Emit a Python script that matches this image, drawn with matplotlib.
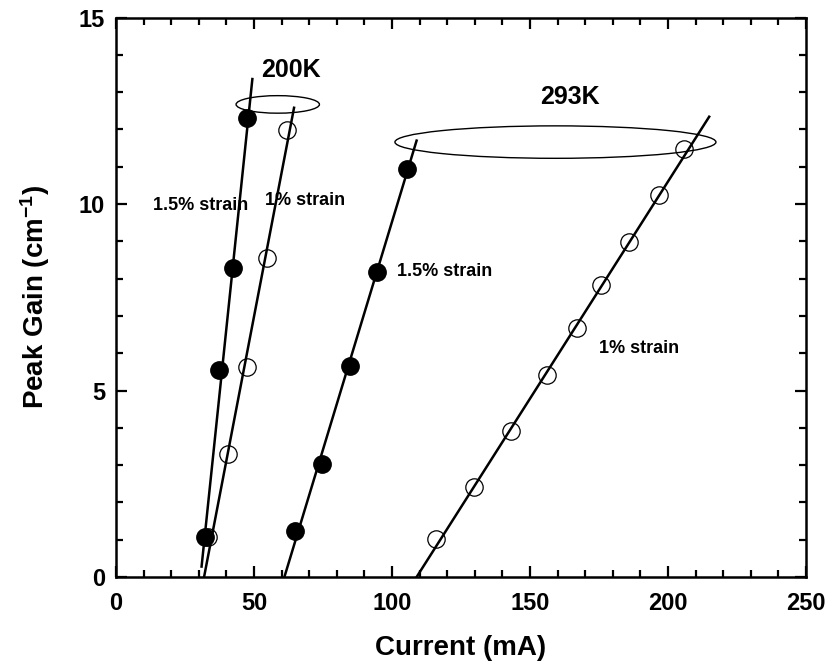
import matplotlib
matplotlib.use("Agg")
import matplotlib.pyplot as plt
from matplotlib.patches import Ellipse
from matplotlib.ticker import MultipleLocator

# Peak gain vs current
t200_s15_current = [32.2, 37.4, 42.5, 47.4]
t200_s15_gain = [1.06, 5.55, 8.28, 12.30]
t200_s10_current = [33.4, 40.7, 47.4, 54.8, 61.8]
t200_s10_gain = [1.06, 3.30, 5.64, 8.56, 11.98]
t293_s15_current = [64.9, 74.5, 84.8, 94.7, 105.3]
t293_s15_gain = [1.24, 3.02, 5.67, 8.19, 10.94]
t293_s10_current = [115.8, 129.8, 143.0, 156.0, 166.9, 175.6, 186.0, 196.8, 205.9]
t293_s10_gain = [1.02, 2.42, 3.91, 5.42, 6.67, 7.83, 8.99, 10.24, 11.47]

# Linear fit lines (end points as drawn)
fit_t200_s15_current = [31.0, 49.4]
fit_t200_s15_gain = [0.28, 13.35]
fit_t200_s10_current = [31.9, 64.5]
fit_t200_s10_gain = [0.0, 12.58]
fit_t293_s15_current = [61.0, 108.9]
fit_t293_s15_gain = [0.0, 11.70]
fit_t293_s10_current = [108.9, 214.9]
fit_t293_s10_gain = [0.0, 12.34]

FONT = "Liberation Sans"

plt.rcParams["font.family"] = FONT
plt.rcParams["font.weight"] = "bold"
plt.rcParams["mathtext.fontset"] = "custom"
plt.rcParams["mathtext.rm"] = "Liberation Sans:bold"
plt.rcParams["mathtext.bf"] = "Liberation Sans:bold"
plt.rcParams["mathtext.it"] = "Liberation Sans:bold"


def plot_gain(filename: str) -> None:
    fig = plt.figure(figsize=(8.31, 6.68), dpi=100)
    ax = fig.add_axes([0.1396, 0.1362, 0.8304, 0.8376])

    # Fit lines
    for xs, ys in [(fit_t200_s15_current, fit_t200_s15_gain),
                   (fit_t200_s10_current, fit_t200_s10_gain),
                   (fit_t293_s15_current, fit_t293_s15_gain),
                   (fit_t293_s10_current, fit_t293_s10_gain)]:
        ax.plot(xs, ys, color="black", linewidth=1.8, zorder=2)

    # Filled circles: 1.5% strain, open circles: 1% strain
    ax.plot(t200_s15_current, t200_s15_gain, "o", color="black", ms=12.5, zorder=3)
    ax.plot(t293_s15_current, t293_s15_gain, "o", color="black", ms=12.5, zorder=3)
    ax.plot(t200_s10_current, t200_s10_gain, "o", mfc="none", mec="black", mew=0.9, ms=12.5, zorder=3)
    ax.plot(t293_s10_current, t293_s10_gain, "o", mfc="none", mec="black", mew=0.9, ms=12.5, zorder=3)

    # Ellipses grouping the temperatures
    ax.add_patch(Ellipse((58.6, 12.67), 30.2, 0.47, fill=False, edgecolor="black", linewidth=1.0, zorder=2))
    ax.add_patch(Ellipse((159.2, 11.66), 116.3, 0.87, fill=False, edgecolor="black", linewidth=1.0, zorder=2))

    # Annotations
    ax.text(63.4, 13.59, "200K", fontsize=18, fontweight="bold", ha="center", va="center")
    ax.text(164.5, 12.87, "293K", fontsize=18, fontweight="bold", ha="center", va="center")
    ax.text(30.6, 9.95, "1.5% strain", fontsize=13, fontweight="bold", ha="center", va="center")
    ax.text(68.5, 10.1, "1% strain", fontsize=13, fontweight="bold", ha="center", va="center")
    ax.text(119.2, 8.19, "1.5% strain", fontsize=13, fontweight="bold", ha="center", va="center")
    ax.text(189.5, 6.13, "1% strain", fontsize=13, fontweight="bold", ha="center", va="center")

    # Axes styling
    ax.set_xlim(0, 250)
    ax.set_ylim(0, 15)
    ax.xaxis.set_major_locator(MultipleLocator(50))
    ax.xaxis.set_minor_locator(MultipleLocator(10))
    ax.yaxis.set_major_locator(MultipleLocator(5))
    ax.yaxis.set_minor_locator(MultipleLocator(1))
    ax.tick_params(which="both", direction="in", top=True, right=True, width=1.6)
    ax.tick_params(which="major", length=8)
    ax.tick_params(which="minor", length=5)
    ax.tick_params(axis="x", which="major", labelsize=17, pad=11)
    ax.tick_params(axis="y", which="major", labelsize=17, pad=8)
    for label in ax.get_xticklabels() + ax.get_yticklabels():
        label.set_fontweight("bold")
    for spine in ax.spines.values():
        spine.set_linewidth(1.8)

    ax.set_xlabel("Current (mA)", fontsize=20, fontweight="bold", labelpad=14)
    ax.set_ylabel("Peak Gain (cm$^{\\mathbf{-1}}$)", fontsize=20, fontweight="bold", labelpad=19)

    fig.savefig(filename, dpi=100, facecolor="white")


def main():
    plot_gain("out.png")


if __name__ == "__main__":
    main()
